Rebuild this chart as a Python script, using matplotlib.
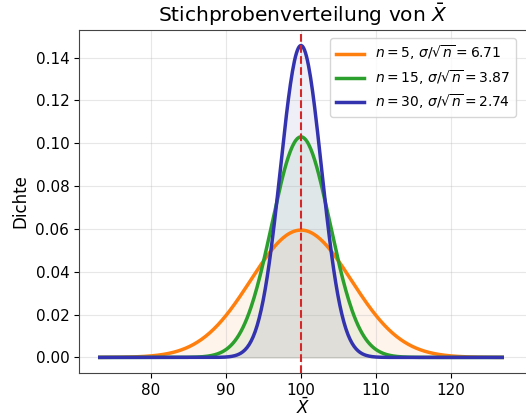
import numpy as np
import matplotlib
matplotlib.use("Agg")
import matplotlib.pyplot as plt

# population parameters and sample sizes
mu = 100
sigma = 15
sizes = [5, 15, 30]
colors = ["#ff7f0e", "#2ca02c", "#3333b0"]
xticks = [80, 90, 100, 110, 120]

se = [sigma / np.sqrt(n) for n in sizes]
x = np.linspace(mu - 4 * max(se), mu + 4 * max(se), 400)

fig = plt.figure(figsize=(5.26, 4.18), dpi=100)
ax = fig.add_axes([79 / 526, 45 / 418, (527 - 79) / 526, (373 - 30) / 418])

for n, s, c in zip(sizes, se, colors):
    y = np.exp(-0.5 * ((x - mu) / s) ** 2) / (s * np.sqrt(2 * np.pi))
    ax.plot(x, y, color=c, lw=2.5,
            label=r"$n = %d$, $\sigma/\sqrt{n} = %.2f$" % (n, s))
    ax.fill_between(x, y, color=c, alpha=0.08)

ax.axvline(mu, color="#d62728", ls="--", lw=1.5)

ax.set_xlim(70.4, 70.4 + (527 - 79) / 7.5)
ax.set_xticks(xticks)
ax.set_title(r"Stichprobenverteilung von $\bar{X}$", fontsize=14.5)
ax.set_xlabel(r"$\bar{X}$", fontsize=12, labelpad=0)
ax.set_ylabel("Dichte", fontsize=12)
ax.tick_params(labelsize=11)
ax.grid(True, alpha=0.3)
for sp in ax.spines.values():
    sp.set_color("#444444")
ax.spines["right"].set_visible(False)  # falls off the canvas in the original
ax.legend(loc="upper right", fontsize=10, bbox_to_anchor=(0.99, 0.997),
          labelspacing=0.4)

fig.savefig("out.png", dpi=100)
